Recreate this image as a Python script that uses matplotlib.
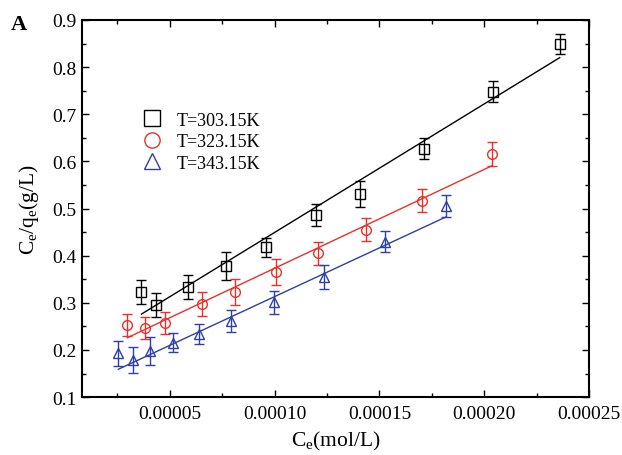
import numpy as np
import matplotlib
matplotlib.use("Agg")
import matplotlib.pyplot as plt
from matplotlib.lines import Line2D
from matplotlib.ticker import MultipleLocator, FormatStrFormatter

plt.rcParams['font.family'] = ['Liberation Serif', 'DejaVu Serif']
plt.rcParams['mathtext.fontset'] = 'custom'
plt.rcParams['mathtext.rm'] = 'Liberation Serif'
plt.rcParams['mathtext.it'] = 'Liberation Serif'

# T = 303.15 K
x_303 = [0.0000365, 0.0000433, 0.0000587, 0.0000769, 0.0000957, 0.0001197, 0.0001409, 0.0001712, 0.0002040, 0.0002360]
y_303 = [0.323, 0.295, 0.334, 0.378, 0.418, 0.486, 0.531, 0.627, 0.748, 0.849]
e_303 = [0.026, 0.025, 0.026, 0.029, 0.020, 0.024, 0.027, 0.022, 0.022, 0.022]
fit_303 = (2727.0, 0.1765)

# T = 323.15 K
x_323 = [0.0000298, 0.0000380, 0.0000476, 0.0000654, 0.0000813, 0.0001005, 0.0001207, 0.0001438, 0.0001702, 0.0002038]
y_323 = [0.253, 0.247, 0.257, 0.297, 0.323, 0.365, 0.405, 0.455, 0.517, 0.616]
e_323 = [0.023, 0.023, 0.023, 0.025, 0.027, 0.027, 0.024, 0.024, 0.025, 0.026]
fit_323 = (2098.0, 0.1634)

# T = 343.15 K
x_343 = [0.0000255, 0.0000327, 0.0000404, 0.0000514, 0.0000639, 0.0000793, 0.0000995, 0.0001236, 0.0001529, 0.0001817]
y_343 = [0.193, 0.179, 0.198, 0.215, 0.234, 0.261, 0.301, 0.355, 0.430, 0.505]
e_343 = [0.027, 0.028, 0.030, 0.020, 0.021, 0.023, 0.025, 0.025, 0.022, 0.024]
fit_343 = (2068.0, 0.1063)

series = [
    (x_303, y_303, e_303, fit_303, 's', 'black', 'T=303.15K'),
    (x_323, y_323, e_323, fit_323, 'o', '#e8312a', 'T=323.15K'),
    (x_343, y_343, e_343, fit_343, '^', '#2e3fa8', 'T=343.15K'),
]

fig = plt.figure(figsize=(6.22, 4.56), dpi=100)
ax = fig.add_axes([0.132, 0.127, 0.815, 0.827])

handles = []
for xs, ys, es, fit, mk, col, lab in series:
    ax.errorbar(xs, ys, yerr=es, fmt=mk, mfc='none', mec=col, ecolor=col,
                ms=7, mew=1.0, elinewidth=1.0, capsize=3.5, capthick=1.0,
                linestyle='none')
    xx = np.array([min(xs), max(xs)])
    ax.plot(xx, fit[0] * xx + fit[1], color=col, lw=1.0)
    handles.append(Line2D([], [], marker=mk, mfc='none', mec=col, ms=11,
                          mew=1.0, linestyle='none', label=lab))

ax.set_xlim(0.0000082, 0.00025)
ax.set_ylim(0.1, 0.9)
ax.xaxis.set_major_locator(MultipleLocator(0.00005))
ax.xaxis.set_minor_locator(MultipleLocator(0.000025))
ax.yaxis.set_major_locator(MultipleLocator(0.1))
ax.yaxis.set_minor_locator(MultipleLocator(0.05))
ax.xaxis.set_major_formatter(FormatStrFormatter('%.5f'))
ax.yaxis.set_major_formatter(FormatStrFormatter('%.1f'))
ax.tick_params(which='both', direction='in', top=True, right=True,
               labeltop=False, labelright=False, labelsize=14, width=1.0)
ax.tick_params(which='major', length=5)
ax.tick_params(axis='x', which='major', pad=6)
ax.tick_params(axis='y', which='major', pad=4)
ax.tick_params(which='minor', length=3)
for sp in ax.spines.values():
    sp.set_linewidth(1.5)

ax.set_xlabel(r'C$_\mathrm{e}$(mol/L)', fontsize=15.5, labelpad=5)
ax.set_ylabel(r'C$_\mathrm{e}$/q$_\mathrm{e}$(g/L)', fontsize=15.5, labelpad=8)

ax.legend(handles=handles, loc='upper left', bbox_to_anchor=(0.08, 0.80),
          frameon=False, fontsize=13, handletextpad=0.6, labelspacing=0.25,
          handlelength=1.5)

fig.text(0.018, 0.935, 'A', fontsize=16, fontweight='bold')

fig.savefig('out.png', dpi=100)
